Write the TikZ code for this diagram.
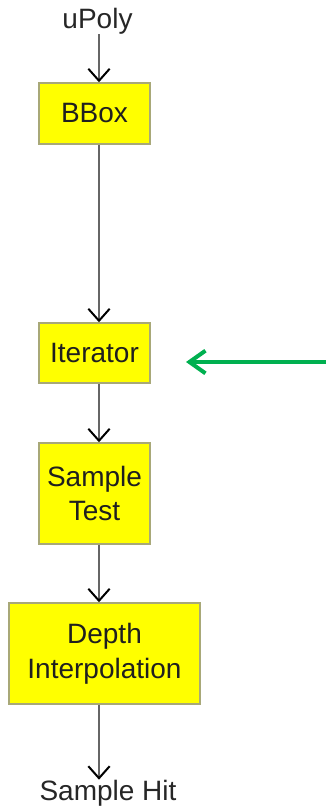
\documentclass[tikz,border=0pt]{standalone}
\usepackage{fontspec}
\setmainfont{Liberation Sans}
\usetikzlibrary{arrows.meta}
\definecolor{boxyellow}{HTML}{FFFF00}
\definecolor{boxedge}{HTML}{A8A878}
\definecolor{flowgray}{HTML}{666666}
\definecolor{pointgreen}{HTML}{00B050}
\begin{document}
\begin{tikzpicture}[x=0.75pt,y=-0.75pt]
	\tikzset{
		stage/.style={draw=boxedge,line width=1.1pt,fill=boxyellow,align=center,text=black!88,
			font=\fontsize{21}{26}\selectfont,inner sep=0pt},
		label/.style={text=black!85,font=\fontsize{21}{26}\selectfont,inner sep=0pt},
		flow/.style={draw=flowgray,line width=1.8pt,-{Straight Barb[black,length=9pt,width=16pt,line width=1.5pt]}},
		pointer/.style={draw=pointgreen,line width=3pt,-{Straight Barb[length=12pt,width=17pt,line width=3pt]}}
	}
	\useasboundingbox (0,0) rectangle (326,810);

	\coordinate (spine) at (99,0);

	\node[label] (upoly) at (97.5,21) {uPoly};
	\node[stage,minimum width=83.25pt,minimum height=45.75pt] (bbox) at (94.5,113.5) {BBox};
	\node[stage,minimum width=83.25pt,minimum height=45pt] (iter) at (94.5,353) {Iterator};
	\node[stage,minimum width=83.25pt,minimum height=75.75pt] (stest) at (94.5,493.5) {Sample\\Test};
	\node[stage,minimum width=143.25pt,minimum height=75.75pt] (depth) at (104.5,653.5) {Depth\\Interpolation};
	\node[label] (hit) at (108,793) {Sample Hit};

	\draw[flow] (upoly.south -| spine) -- (bbox.north -| spine);
	\draw[flow] (bbox.south -| spine) -- (iter.north -| spine);
	\draw[flow] (iter.south -| spine) -- (stest.north -| spine);
	\draw[flow] (stest.south -| spine) -- (depth.north -| spine);
	\draw[flow] (depth.south -| spine) -- (hit.north -| spine);

	\coordinate (gstart) at (326,362);
	\coordinate (gtip) at (186,362);
	\draw[pointer] (gstart) -- (gtip);

\end{tikzpicture}
\end{document}
